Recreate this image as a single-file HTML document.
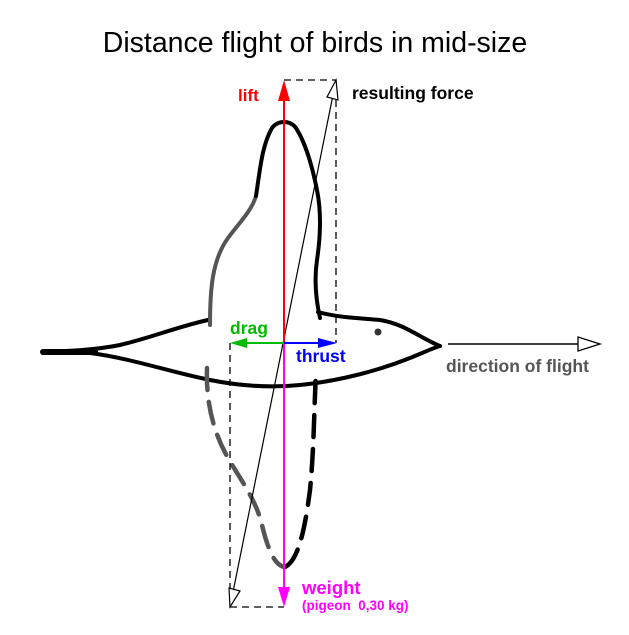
<!DOCTYPE html>
<html><head><meta charset="utf-8"><style>
html,body{margin:0;padding:0;background:#fff;}
svg{display:block;}
text{font-family:"Liberation Sans",Arial,sans-serif;}
</style></head><body>
<svg width="629" height="635" viewBox="0 0 629 635" xmlns="http://www.w3.org/2000/svg">
<rect width="629" height="635" fill="#fff"/>
<text x="315" y="52" font-size="28.5" text-anchor="middle" fill="#000">Distance flight of birds in mid-size</text>

<!-- bird body -->
<g fill="none" stroke-linecap="round" stroke-linejoin="round">
<path d="M43,352 C70,351 95,350 120,345 C150,338 180,326 208,320" stroke="#000" stroke-width="4"/>
<path d="M43,352 L95,352" stroke="#000" stroke-width="6"/>
<path d="M90,353 C130,358 170,372 210,380 C240,386 270,388 300,385 C340,381 380,370 410,358 C425,352 433,348 440,346" stroke="#000" stroke-width="4"/>
<path d="M318,312 C340,318 360,318 380,320 C405,324 420,338 440,346" stroke="#000" stroke-width="4"/>
<!-- upper wing -->
<path d="M210,325 C210,290 212,260 228,238 C240,222 252,210 256,196" stroke="#555" stroke-width="4"/>
<path d="M256,196 C260,170 262,145 272,128 C278,120 290,120 296,128 C305,142 312,165 317,190 C322,215 320,240 317,260 C314,280 316,300 320,318" stroke="#000" stroke-width="4"/>
<!-- lower wing dashed -->
<path d="M207,368 C206,400 212,430 228,458 C242,482 256,500 262,525 C268,550 275,566 285,567" stroke="#555" stroke-width="4.5" stroke-dasharray="22,12"/>
<path d="M285,567 C300,560 306,520 310,490 C314,450 314,410 316,372" stroke="#000" stroke-width="4.5" stroke-dasharray="22,12"/>
</g>
<circle cx="378" cy="332" r="3.5" fill="#333"/>

<!-- dashed parallelogram -->
<g stroke="#000" stroke-width="1.3" fill="none" stroke-dasharray="7,5">
<path d="M284,80 L336,80 L336,343"/>
<path d="M230,343 L230,607 L284,607"/>
</g>
<line x1="230" y1="607" x2="336" y2="80" stroke="#000" stroke-width="1.2"/>
<polygon points="336,80 338,100 327,97" fill="#fff" stroke="#000" stroke-width="1.2"/>
<polygon points="230,607 229,588 240,591" fill="#fff" stroke="#000" stroke-width="1.2"/>

<line x1="284" y1="343" x2="284" y2="95" stroke="#f00" stroke-width="2"/>
<polygon points="284,80 278,101 290,101" fill="#f00"/>
<line x1="284" y1="343" x2="284" y2="590" stroke="#f0f" stroke-width="2"/>
<polygon points="284,607 278,587 290,587" fill="#f0f"/>
<line x1="284" y1="343" x2="245" y2="343" stroke="#0b0" stroke-width="2"/>
<polygon points="230,343 247,338 247,348" fill="#0b0"/>
<line x1="284" y1="343" x2="320" y2="343" stroke="#00f" stroke-width="2"/>
<polygon points="337,343 318,338 318,348" fill="#00f"/>

<line x1="448" y1="344" x2="580" y2="344" stroke="#000" stroke-width="1.5"/>
<polygon points="600,344 578,337 578,351" fill="#fff" stroke="#000" stroke-width="1.3"/>

<text x="238" y="101" font-size="17" font-weight="bold" fill="#f00">lift</text>
<text x="352" y="99" font-size="17.5" font-weight="bold" fill="#000">resulting force</text>
<text x="230" y="334" font-size="17.5" font-weight="bold" fill="#0b0">drag</text>
<text x="296" y="362" font-size="17.5" font-weight="bold" fill="#00f">thrust</text>
<text x="446" y="372" font-size="17.5" font-weight="bold" fill="#555">direction of flight</text>
<text x="302" y="594" font-size="18.5" font-weight="bold" fill="#f0f">weight</text>
<text x="302" y="610" font-size="13.5" font-weight="bold" fill="#f0f" xml:space="preserve">(pigeon  0,30 kg)</text>
</svg>
</body></html>
